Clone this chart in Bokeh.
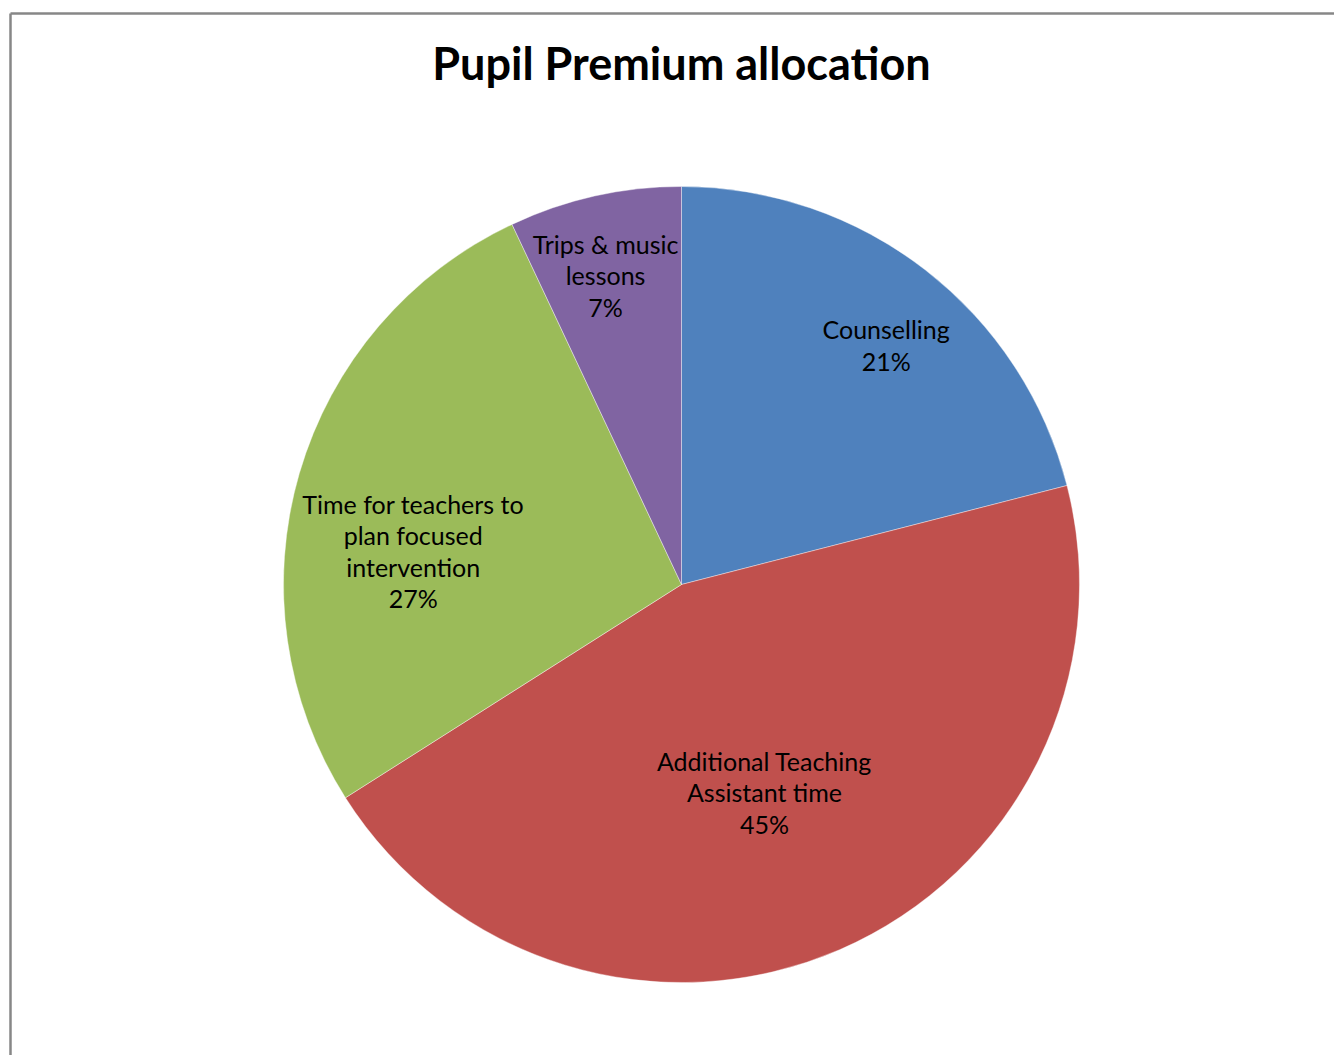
import math
from bokeh.plotting import figure
from bokeh.models import ColumnDataSource, Range1d
from bokeh.core.properties import value
from bokeh.embed import file_html
from bokeh.resources import INLINE

# ---- data ----
title_text = "Pupil Premium allocation"
categories = ["Counselling", "Additional Teaching\nAssistant time",
              "Time for teachers to\nplan focused\nintervention", "Trips & music\nlessons"]
shares = [21, 45, 27, 7]
colors = ["#4F81BD", "#C0504D", "#9BBB59", "#8064A2"]

# ---- styling (label placement) ----
label_r = [316, 224, 270, 316]
label_dx = [11, -6, -9, -7]
label_dy = [-10, -2, -42, 1]

W, H = 1334, 1055
CX, CY = 681, 584          # pie centre in picture pixels
R = 398

p = figure(width=W, height=H, output_backend="svg", toolbar_location=None,
           x_range=Range1d(0 - CX, W - CX), y_range=Range1d(CY - H, CY),
           min_border=0)
p.axis.visible = False
p.grid.visible = False
p.outline_line_color = None
p.background_fill_color = "white"
p.border_fill_color = "white"

total = sum(shares)
starts, ends, lx, ly, texts = [], [], [], [], []
cum = 0.0
for i, v in enumerate(shares):
    a0 = cum / total
    cum += v
    a1 = cum / total
    starts.append(math.pi / 2 - 2 * math.pi * a1)
    ends.append(math.pi / 2 - 2 * math.pi * a0)
    mid = math.pi / 2 - 2 * math.pi * (a0 + a1) / 2
    lx.append(label_r[i] * math.cos(mid) + label_dx[i])
    ly.append(label_r[i] * math.sin(mid) + label_dy[i])
    texts.append(f"{categories[i]}\n{v}%")

src = ColumnDataSource(dict(start=starts, end=ends, color=colors,
                            lx=lx, ly=ly, text=texts))

p.wedge(x=0, y=0, radius=R, start_angle="start", end_angle="end",
        fill_color="color", line_color="white", line_width=0.4, source=src)

p.text(x="lx", y="ly", text="text", source=src, text_align="center",
       text_baseline="middle", text_font=value("Lato"), text_font_size="25px",
       text_color="black", text_line_height=1.05)

# title
p.text(x=[0], y=[CY - 62], text=[title_text], text_align="center",
       text_baseline="alphabetic", text_font=value("Lato"), text_font_size="45px",
       text_font_style="bold", text_color="black")

# chart border (left and top edges visible)
p.segment(x0=[10 - CX, 10 - CX], y0=[CY - 13, CY - 13],
          x1=[10 - CX, W - CX], y1=[CY - H, CY - 13],
          line_color="#878787", line_width=2.5)

open("out.html", "w").write(file_html(p, INLINE))
